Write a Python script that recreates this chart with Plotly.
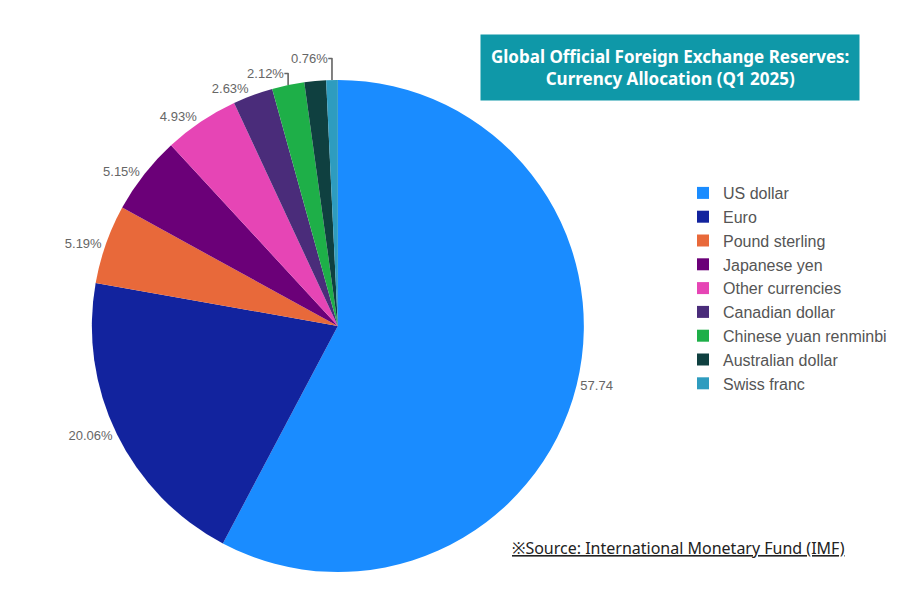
import plotly.graph_objects as go

currencies = ["US dollar", "Euro", "Pound sterling", "Japanese yen", "Other currencies",
              "Canadian dollar", "Chinese yuan renminbi", "Australian dollar", "Swiss franc"]
shares = [57.74, 20.06, 5.19, 5.15, 4.93, 2.63, 2.12, 1.42, 0.76]
label_text = ["57.74", "20.06%", "5.19%", "5.15%", "4.93%", "2.63%", "2.12%", "", "0.76%"]
colors = ["#1a8cff", "#12239e", "#e8693a", "#6b0078", "#e645b5",
          "#4a2c7a", "#1eaf48", "#0f4040", "#2e9cbf"]

fig = go.Figure(go.Pie(
    labels=currencies, values=shares, text=label_text, textinfo="text",
    textposition="outside", sort=False, direction="clockwise", rotation=0,
    marker=dict(colors=colors), textfont=dict(color="#666", size=13, family="Liberation Sans"),
    domain=dict(x=[0.09, 0.643], y=[0.06, 0.88]), showlegend=True,
))
fig.update_layout(
    width=900, height=600, margin=dict(l=0, r=0, t=0, b=0),
    paper_bgcolor="white", font=dict(family="Noto Sans"),
    legend=dict(x=0.75, y=0.72, yanchor="top",
                font=dict(size=16, color="#555", family="Liberation Sans"),
                tracegroupgap=0, itemsizing="constant"),
    annotations=[
        dict(text="<b>Global Official Foreign Exchange Reserves:<br>Currency Allocation (Q1 2025)</b>",
             x=0.735, y=0.9, xref="paper", yref="paper", xanchor="center", yanchor="middle",
             showarrow=False, bgcolor="#0f98a8", font=dict(color="white", size=17), borderpad=10,
             align="center"),
        dict(text="<u>※Source: International Monetary Fund (IMF)</u>",
             x=0.745, y=0.1, xref="paper", yref="paper", xanchor="center", yanchor="middle",
             showarrow=False, font=dict(color="#222", size=16)),
    ],
)
fig.write_html("out.html")
